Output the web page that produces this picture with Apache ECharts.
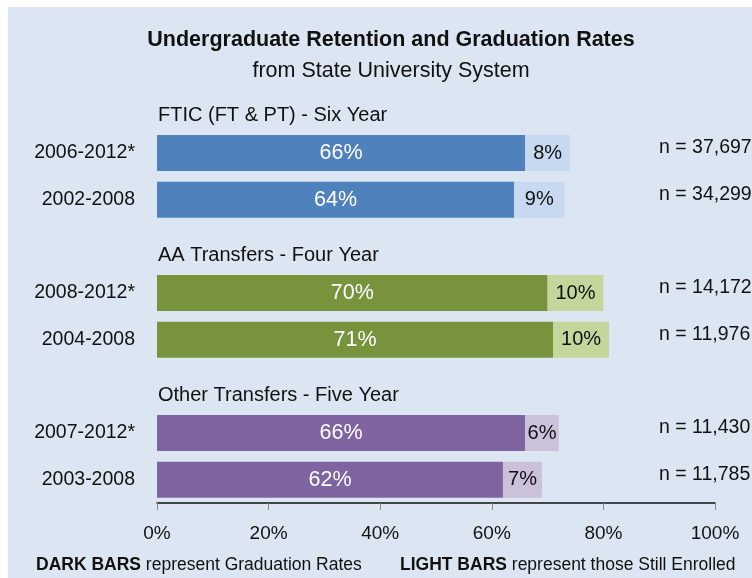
<!DOCTYPE html>
<html>
<head>
<meta charset="utf-8">
<script src="https://cdn.jsdelivr.net/npm/echarts@6/dist/echarts.min.js"></script>
<style>
  html, body { margin: 0; padding: 0; background: #fff; }
  #chart { width: 752px; height: 578px; }
</style>
</head>
<body>
<div id="chart"></div>
<script>
// 数据
const groupNames = ['FTIC (FT & PT) - Six Year', 'AA Transfers - Four Year', 'Other Transfers - Five Year'];
const cohorts = [['2006-2012*', '2002-2008'], ['2008-2012*', '2004-2008'], ['2007-2012*', '2003-2008']];
const gradRates = [66, 64, 70, 71, 66, 62];
const stillEnrolled = [8, 9, 10, 10, 6, 7];
const sampleSizes = ['n = 37,697', 'n = 34,299', 'n = 14,172', 'n = 11,976', 'n = 11,430', 'n = 11,785'];
const darkColors = ['#4f81bd', '#77933c', '#8064a2'];
const lightColors = ['#c6d9f1', '#c3d69b', '#ccc1da'];

const font = '"Liberation Sans Narrow", "Arial Narrow", "Liberation Sans", Arial, sans-serif';

// 每组: 标题行 + 两行
let categories = [], nLabels = [], darkData = [], lightData = [], headerData = [];
let k = 0;
groupNames.forEach((g, gi) => {
    categories.push('');
    nLabels.push('');
    darkData.push('-');
    lightData.push('-');
    headerData.push({ value: 0, name: g });
    cohorts[gi].forEach(c => {
        categories.push(c);
        nLabels.push(sampleSizes[k]);
        darkData.push({ value: gradRates[k], itemStyle: { color: darkColors[gi] } });
        lightData.push({ value: stillEnrolled[k], itemStyle: { color: lightColors[gi] } });
        headerData.push('-');
        k++;
    });
});

const chart = echarts.init(document.getElementById('chart'));
chart.setOption({
    animation: false,
    backgroundColor: '#fff',
    textStyle: { fontFamily: font },
    graphic: [
        {
            type: 'rect', z: -10, silent: true,
            shape: { x: 8, y: 7, width: 760, height: 590 },
            style: { fill: '#dce6f2' }
        },
        {
            type: 'text', x: 391, y: 40,
            style: {
                text: 'Undergraduate Retention and Graduation Rates',
                align: 'center', verticalAlign: 'middle',
                fontSize: 21.5, fontWeight: 'bold', fontFamily: font, fill: '#111'
            }
        },
        {
            type: 'text', x: 391, y: 71,
            style: {
                text: 'from State University System',
                align: 'center', verticalAlign: 'middle',
                fontSize: 21.5, fontFamily: font, fill: '#111'
            }
        },
        {
            type: 'text', left: 36, top: 556,
            style: {
                text: '{b|DARK BARS} represent Graduation Rates',
                rich: { b: { fontWeight: 'bold', fontSize: 17.5, fontFamily: font, fill: '#111' } },
                fontSize: 17.5, fontFamily: font, fill: '#111'
            }
        },
        {
            type: 'text', left: 400, top: 556,
            style: {
                text: '{b|LIGHT BARS} represent those Still Enrolled',
                rich: { b: { fontWeight: 'bold', fontSize: 17.5, fontFamily: font, fill: '#111' } },
                fontSize: 17.5, fontFamily: font, fill: '#111'
            }
        }
    ],
    grid: { left: 157, right: 37, top: 83, bottom: 75, outerBoundsMode: 'none', containLabel: false },
    xAxis: {
        type: 'value',
        min: 0,
        max: 100,
        interval: 20,
        splitLine: { show: false },
        axisLine: { show: true, lineStyle: { color: '#111', width: 1.5 } },
        axisTick: { show: true, length: 7, lineStyle: { color: '#888' } },
        axisLabel: { formatter: '{value}%', fontSize: 19, color: '#111', margin: 21, fontFamily: font }
    },
    yAxis: [
        {
            type: 'category',
            inverse: true,
            data: categories,
            axisLine: { show: false },
            axisTick: { show: false },
            axisLabel: { fontSize: 19.5, color: '#111', margin: 22, fontFamily: font }
        },
        {
            type: 'category',
            inverse: true,
            position: 'right',
            data: nLabels,
            axisLine: { show: false },
            axisTick: { show: false },
            axisLabel: {
                inside: true, align: 'left', margin: 56,
                fontSize: 19.5, color: '#111', fontFamily: font,
                verticalAlign: 'bottom', lineHeight: 10
            }
        }
    ],
    series: [
        {
            name: 'Graduation Rates',
            type: 'bar',
            stack: 'total',
            barWidth: 36,
            data: darkData,
            label: {
                show: true, position: 'inside', formatter: '{c}%',
                color: '#fff', fontSize: 21.5, fontFamily: font
            }
        },
        {
            name: 'Still Enrolled',
            type: 'bar',
            stack: 'total',
            barWidth: 36,
            data: lightData,
            label: {
                show: true, position: 'inside', formatter: '{c}%',
                color: '#111', fontSize: 20, fontFamily: font
            }
        },
        {
            name: 'header',
            type: 'bar',
            barWidth: 36,
            barGap: '-100%',
            silent: true,
            itemStyle: { color: 'transparent' },
            data: headerData,
            label: {
                show: true, position: 'insideLeft', distance: 1,
                offset: [0, 9],
                formatter: '{b}', color: '#111', fontSize: 20, fontFamily: font
            }
        }
    ]
});
</script>
</body>
</html>
